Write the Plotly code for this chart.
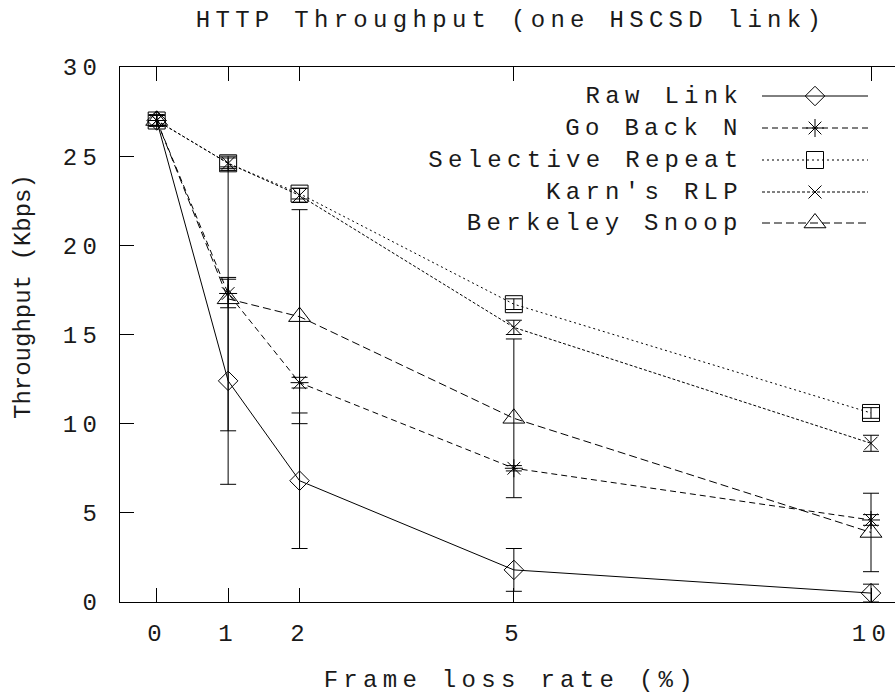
import plotly.graph_objects as go

# ---- data -------------------------------------------------------------
loss_rate = [0, 1, 2, 5, 10]
tick_labels = ["0", "1", "2", "5", "10"]

raw_link = [27.0, 12.4, 6.8, 1.8, 0.5]
raw_link_err = [0.3, 5.8, 3.8, 1.2, 0.5]

go_back_n = [27.0, 17.3, 12.3, 7.5, 4.6]
go_back_n_err = [0.3, 0.8, 0.3, 0.15, 0.3]

selective_repeat = [27.0, 24.6, 22.9, 16.7, 10.6]
selective_repeat_err = [0.3, 0.3, 0.3, 0.3, 0.3]

karns_rlp = [27.0, 24.6, 22.8, 15.4, 8.9]
karns_rlp_err = [0.3, 0.4, 0.4, 0.4, 0.45]

berkeley_snoop = [27.0, 17.0, 16.0, 10.3, 3.9]
berkeley_snoop_err = [0.3, 7.4, 6.0, 4.45, 2.2]

series_names = ["Raw Link", "Go Back N", "Selective Repeat", "Karn's RLP", "Berkeley Snoop"]
series_values = [raw_link, go_back_n, selective_repeat, karns_rlp, berkeley_snoop]
series_errors = [raw_link_err, go_back_n_err, selective_repeat_err, karns_rlp_err, berkeley_snoop_err]

# ---- styles -----------------------------------------------------------
symbols = ["diamond-open", "asterisk-open", "square-open", "x-thin-open", "triangle-up-open"]
sizes = [15, 15, 17, 13, 19]
dashes = ["solid", "6px,4px", "2px,3px", "3px,2px", "8px,4px"]
FONT = "Liberation Mono"
FS = 24
TXT = "#1a1a1a"

W, H = 895, 695
L, R, T, B = 120, 0, 67, 93

fig = go.Figure()

for name, vals, errs, sym, sz, dsh in zip(series_names, series_values, series_errors,
                                          symbols, sizes, dashes):
    fig.add_trace(go.Scatter(
        x=loss_rate, y=vals, name=name, mode="lines+markers",
        line=dict(color="black", width=1, dash=dsh),
        marker=dict(symbol=sym, size=sz, color="black",
                    line=dict(color="black", width=1)),
        error_y=dict(type="data", array=errs, visible=True,
                     color="black", thickness=1, width=8),
        showlegend=False, cliponaxis=False,
    ))

# ---- custom gnuplot-style key (text left, sample right), pixel axes ---
key_text_right = 745
key_line = (762, 868)
key_rows = [96, 128, 160, 192, 223]
for name, sym, sz, dsh, ky in zip(series_names, symbols, sizes, dashes, key_rows):
    fig.add_trace(go.Scatter(
        x=[key_line[0], key_line[1]], y=[ky, ky], mode="lines",
        line=dict(color="black", width=1, dash=dsh),
        xaxis="x2", yaxis="y2", showlegend=False, hoverinfo="skip"))
    fig.add_trace(go.Scatter(
        x=[(key_line[0] + key_line[1]) / 2], y=[ky], mode="markers",
        marker=dict(symbol=sym, size=sz, color="black",
                    line=dict(color="black", width=1)),
        xaxis="x2", yaxis="y2", showlegend=False, hoverinfo="skip"))
    fig.add_annotation(x=key_text_right, y=ky, xref="x2", yref="y2",
                       text=name, showarrow=False, xanchor="right", yanchor="middle",
                       font=dict(family=FONT, size=FS, color=TXT))

plot_w = W - L - R
plot_h = H - T - B
x0_px, x10_px = 156.7, 871.0
ppu = (x10_px - x0_px) / 10.0
x_range = [(L - x0_px) / ppu, (W - R - x0_px) / ppu]

fig.update_layout(
    width=W, height=H,
    margin=dict(l=L, r=R, t=T, b=B, pad=0),
    paper_bgcolor="white", plot_bgcolor="white",
    font=dict(family=FONT, size=FS, color=TXT),
    title=dict(text="HTTP Throughput (one HSCSD link)", x=511 / W, xanchor="center",
               y=1 - 19 / H, yanchor="middle", yref="container",
               font=dict(family=FONT, size=FS, color=TXT)),
    xaxis=dict(range=x_range, tickvals=loss_rate, showticklabels=False,
               showgrid=False, zeroline=False, showline=True, linecolor="black",
               linewidth=1, mirror="ticks", ticks="inside", ticklen=14,
               tickwidth=1, tickcolor="black"),
    yaxis=dict(range=[0, 30], tickvals=[0, 5, 10, 15, 20, 25, 30],
               showgrid=False, zeroline=False, showline=True, linecolor="black",
               linewidth=1, mirror=False, ticks="inside", ticklen=14,
               tickwidth=1, tickcolor="black", ticklabelstandoff=12,
               tickfont=dict(family=FONT, size=FS, color=TXT)),
    xaxis2=dict(range=[L, W - R], overlaying="x", anchor="y2", visible=False,
                fixedrange=True),
    yaxis2=dict(range=[H - B, T], overlaying="y", anchor="x2", visible=False,
                fixedrange=True),
)

# x tick labels placed on the data x scale, fixed pixel row below the axis
for v, lab in zip(loss_rate, tick_labels):
    fig.add_annotation(x=v, xref="x", y=(H - B - 634) / plot_h, yref="paper",
                       text=lab, showarrow=False, xanchor="center", yanchor="middle",
                       font=dict(family=FONT, size=FS, color=TXT))

fig.add_annotation(x=(511 - L) / plot_w, y=(H - B - 680) / plot_h, xref="paper", yref="paper",
                   text="Frame loss rate (%)", showarrow=False,
                   xanchor="center", yanchor="middle",
                   font=dict(family=FONT, size=FS, color=TXT))
fig.add_annotation(x=(23 - L) / plot_w, y=(H - B - 297) / plot_h, xref="paper", yref="paper",
                   text="Throughput (Kbps)", showarrow=False, textangle=-90,
                   xanchor="center", yanchor="middle",
                   font=dict(family=FONT, size=FS, color=TXT))

post = """
(function(){
var gd = document.getElementById('{plot_id}');
var names = %s;
gd.querySelectorAll('svg text').forEach(function(t){
  var s = t.textContent;
  if (!s || s.indexOf('Throughput (') === 0) return;
  var b0 = t.getBBox();
  t.style.letterSpacing = '5.3px';
  var b1 = t.getBBox();
  var p = t.parentNode;
  var right = names.indexOf(s) >= 0 || (p && p.classList && p.classList.contains('ytick'));
  var dx = right ? (b0.x + b0.width) - (b1.x + b1.width)
                 : (b0.x + b0.width / 2) - (b1.x + b1.width / 2);
  var x = parseFloat(t.getAttribute('x') || '0');
  t.setAttribute('x', x + dx);
});
})();
""" % ("[" + ",".join('"%s"' % n for n in series_names) + "]")

fig.write_html("out.html", post_script=post)
